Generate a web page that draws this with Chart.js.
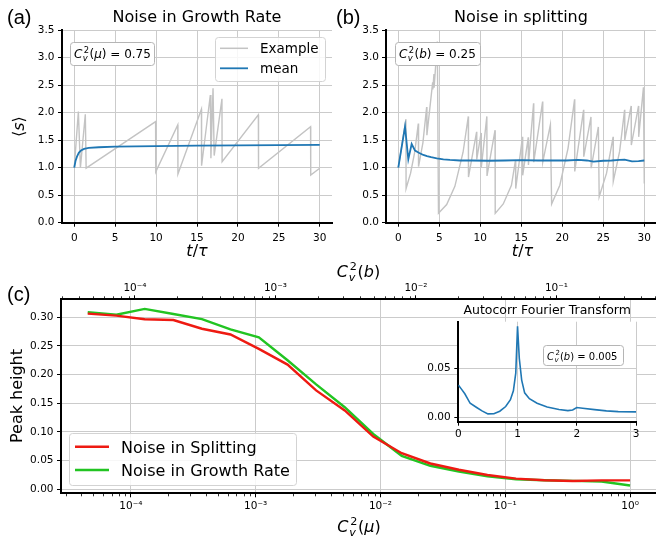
<!DOCTYPE html>
<html><head><meta charset="utf-8">
<script src="https://cdn.jsdelivr.net/npm/chart.js@4"></script>
<style>
html,body{margin:0;padding:0;background:#fff;}
#wrap{position:relative;width:656px;height:539px;overflow:hidden;background:#fff;}
canvas{position:absolute;}
</style></head><body>
<div id="wrap">
<canvas id="ca" width="340" height="270" style="left:0px;top:0px;width:340px;height:270px"></canvas>
<canvas id="cb" width="326" height="270" style="left:330px;top:0px;width:326px;height:270px"></canvas>
<canvas id="cc" width="656" height="284" style="left:0px;top:255px;width:656px;height:284px"></canvas>
<canvas id="ci" width="256" height="150" style="left:400px;top:295px;width:256px;height:150px"></canvas>
</div>
<script>
// ---------------- DATA ----------------
// (a) Noise in growth rate
const exampleT_a = [0, 0.5, 0.75, 1.35, 1.45, 9.94, 9.96, 12.65, 12.67, 15.54, 15.56, 16.63, 16.7, 16.96, 17.1, 18.05, 18.07, 22.5, 22.52, 28.88, 28.9, 30];
const exampleS_a = [1.0, 2.02, 1.0, 1.97, 0.99, 1.835, 0.925, 1.775, 0.885, 2.06, 1.035, 2.32, 1.17, 2.44, 1.22, 2.25, 1.11, 1.96, 0.99, 1.745, 0.865, 0.99];
const meanT_a = [0, 0.15, 0.33, 0.55, 0.82, 1.2, 1.77, 3, 5, 10, 15, 20, 25, 30];
const meanS_a = [1.0, 1.12, 1.2, 1.27, 1.31, 1.34, 1.36, 1.37, 1.38, 1.39, 1.40, 1.405, 1.41, 1.415];
// (b) Noise in splitting
const exampleT_b = [0, 0.93, 0.95, 1.5, 2.0, 2.44, 2.47, 3.0, 3.46, 3.49, 4.19, 4.21, 4.35, 4.37, 4.76, 4.9, 5.9, 6.9, 7.9, 8.54, 8.56, 9.55, 9.57, 10.1, 10.12, 10.8, 10.82, 11.8, 11.82, 12.8, 13.8, 14.3, 14.32, 15.15, 15.17, 15.85, 15.87, 16.5, 16.52, 17.6, 17.62, 18.55, 18.7, 19.7, 20.7, 21.5, 21.52, 22.6, 22.62, 23.5, 23.52, 24.4, 24.5, 25.4, 26.2, 26.22, 27.0, 27.6, 27.62, 28.4, 28.42, 29.3, 29.32, 29.9, 30];
const exampleS_b = [1.0, 1.88, 0.62, 0.9, 1.28, 1.80, 1.02, 1.45, 2.10, 1.59, 2.55, 2.42, 2.70, 2.45, 3.29, 0.17, 0.33, 0.66, 1.28, 1.93, 0.83, 1.65, 1.15, 1.63, 1.0, 1.93, 0.85, 1.68, 0.17, 0.34, 0.68, 1.14, 0.62, 1.56, 0.86, 1.55, 1.05, 2.17, 1.1, 2.2, 1.1, 1.78, 0.34, 0.68, 1.35, 2.24, 0.93, 2.05, 1.2, 1.92, 0.99, 1.74, 0.47, 0.9, 1.56, 0.75, 1.3, 2.05, 1.5, 2.12, 1.41, 2.12, 1.56, 2.46, 0.71];
const meanT_b = [0, 0.82, 1.22, 1.63, 2.04, 2.5, 3.05, 3.5, 4.0, 4.7, 5.5, 6.3, 7.5, 9, 11, 13, 15, 17, 19, 20.5, 21.95, 23, 23.8, 25, 26, 27, 27.6, 28.5, 29.3, 30];
const meanS_b = [1.0, 1.745, 1.15, 1.43, 1.31, 1.27, 1.23, 1.21, 1.19, 1.17, 1.15, 1.14, 1.13, 1.13, 1.125, 1.13, 1.135, 1.13, 1.13, 1.13, 1.14, 1.13, 1.11, 1.125, 1.13, 1.14, 1.145, 1.115, 1.12, 1.13];
const tTicks = [0, 5, 10, 15, 20, 25, 30];
const sTicks = [0, 0.5, 1, 1.5, 2, 2.5, 3, 3.5];
// (c) Peak height vs noise
const cv2mu = [4.51e-5, 7.64e-5, 1.29e-4, 2.19e-4, 3.71e-4, 6.28e-4, 1.06e-3, 1.80e-3, 3.05e-3, 5.17e-3, 8.75e-3, 1.48e-2, 2.51e-2, 4.25e-2, 7.20e-2, 0.122, 0.206, 0.349, 0.591, 1.0];
const peakSplitting = [0.3064, 0.303, 0.2965, 0.2953, 0.280, 0.270, 0.245, 0.2175, 0.1725, 0.1375, 0.092, 0.063, 0.045, 0.034, 0.025, 0.0186, 0.0158, 0.0145, 0.0155, 0.0155];
const peakGrowth = [0.3088, 0.3045, 0.3146, 0.3058, 0.2968, 0.279, 0.265, 0.225, 0.183, 0.1432, 0.0965, 0.0584, 0.041, 0.031, 0.0228, 0.0175, 0.0158, 0.0146, 0.0135, 0.0065];
const peakTicks = [0, 0.05, 0.10, 0.15, 0.20, 0.25, 0.30];
const decadesMu = [1e-4, 1e-3, 1e-2, 1e-1, 1];
const decadesB = [1e-4, 1e-3, 1e-2, 1e-1];
// inset: autocorrelation Fourier transform
const freq = [0, 0.05, 0.11, 0.2, 0.31, 0.4, 0.5, 0.6, 0.7, 0.8, 0.88, 0.93, 0.97, 1.0, 1.03, 1.07, 1.12, 1.2, 1.33, 1.5, 1.7, 1.85, 1.93, 2.0, 2.1, 2.3, 2.5, 2.7, 3.0];
const ampl = [0.033, 0.029, 0.024, 0.0143, 0.010, 0.0065, 0.0035, 0.0036, 0.0062, 0.011, 0.018, 0.027, 0.045, 0.093, 0.060, 0.038, 0.025, 0.019, 0.0143, 0.0105, 0.0080, 0.0068, 0.0075, 0.0100, 0.0092, 0.0078, 0.0066, 0.0058, 0.0055];
const freqTicks = [0, 1, 2, 3];
const amplTicks = [0, 0.05];

// ---------------- HELPERS ----------------
Chart.defaults.font.family = '"DejaVu Sans"';
Chart.defaults.color = '#000';
const GRID = '#cbcbcb';
const pts = (xs, ys) => xs.map((x, i) => ({x: x, y: ys[i]}));
const SUP = {'-':'\u207B','0':'\u2070','1':'\u00B9','2':'\u00B2','3':'\u00B3','4':'\u2074','5':'\u2075','6':'\u2076','7':'\u2077','8':'\u2078','9':'\u2079'};
const logLabel = v => '10' + String(Math.round(Math.log10(v))).split('').map(c => SUP[c]).join('');
function fontStr(size, italic){ return (italic ? 'italic ' : '') + size + 'px "DejaVu Sans"'; }
function segW(ctx, s){
  if (s.stack){ ctx.font = fontStr(s.size, false); const a = ctx.measureText(s.sup).width; ctx.font = fontStr(s.size, true); const b = ctx.measureText(s.sub).width; return Math.max(a, b) + s.size*0.15; }
  ctx.font = fontStr(s.size, s.italic); return ctx.measureText(s.t).width + (s.pad || 0);
}
function drawRich(ctx, x, y, segs, align, angle){
  ctx.save(); ctx.translate(x, y); if (angle) ctx.rotate(angle);
  const total = segs.reduce((a, s) => a + segW(ctx, s), 0);
  let cx = align === 'center' ? -total/2 : (align === 'right' ? -total : 0);
  ctx.textBaseline = 'alphabetic'; ctx.textAlign = 'left'; ctx.fillStyle = '#000';
  for (const s of segs){
    const w = segW(ctx, s);
    if (s.stack){
      ctx.font = fontStr(s.size, false); ctx.fillText(s.sup, cx + 1, -s.up);
      ctx.font = fontStr(s.size, true); ctx.fillText(s.sub, cx, s.down);
    } else { ctx.font = fontStr(s.size, s.italic); ctx.fillText(s.t, cx, 0); }
    cx += w;
  }
  ctx.restore(); return total;
}
function cvSegs(size, arg, tail){
  const s = [{t:'C', size:size, italic:true, pad:size*0.04},
    {stack:true, sup:'2', sub:'v', size:size*0.7, up:size*0.42, down:size*0.24},
    {t:'(', size:size}, {t:arg, size:size, italic:true}, {t:')', size:size}];
  if (tail) s.push({t:tail, size:size});
  return s;
}
function roundBox(ctx, x, y, w, h, r, fill, stroke){
  ctx.save(); ctx.beginPath();
  ctx.moveTo(x + r, y); ctx.lineTo(x + w - r, y); ctx.quadraticCurveTo(x + w, y, x + w, y + r);
  ctx.lineTo(x + w, y + h - r); ctx.quadraticCurveTo(x + w, y + h, x + w - r, y + h);
  ctx.lineTo(x + r, y + h); ctx.quadraticCurveTo(x, y + h, x, y + h - r);
  ctx.lineTo(x, y + r); ctx.quadraticCurveTo(x, y, x + r, y); ctx.closePath();
  ctx.fillStyle = fill; ctx.fill(); ctx.strokeStyle = stroke; ctx.lineWidth = 1; ctx.stroke(); ctx.restore();
}
function legendLine(ctx, x1, x2, y, color, lw){
  ctx.save(); ctx.strokeStyle = color; ctx.lineWidth = lw; ctx.beginPath(); ctx.moveTo(x1, y); ctx.lineTo(x2, y); ctx.stroke(); ctx.restore();
}
function txt(ctx, s, x, y, font, align){
  ctx.save(); ctx.font = font; ctx.fillStyle = '#000'; ctx.textAlign = align || 'left'; ctx.textBaseline = 'alphabetic'; ctx.fillText(s, x, y); ctx.restore();
}
const tickFont = {size: 10.5};
function linAxis(min, max, ticks, fmt, pad, fit, isY){
  return {type:'linear', min:min, max:max,
    afterBuildTicks: s => { s.ticks = ticks.map(v => ({value: v})); },
    ticks:{font:tickFont, color:'#000', padding:pad, maxRotation:0, autoSkip:false, callback: fmt},
    grid:{color:GRID, lineWidth:1, tickColor:'#000', tickLength:4, tickWidth:1},
    border:{color:'#000', width:2},
    afterFit: s => { if (isY) s.width = fit; else s.height = fit; }};
}

// ---------------- PANEL (a) ----------------
const plugA = {id:'plugA', afterDraw(chart){
  const ctx = chart.ctx;
  txt(ctx, '(a)', 7, 24, '20px "Liberation Sans"');
  drawRich(ctx, 24, 126.7, [{t:'\u27E8', size:16}, {t:'s', size:16, italic:true}, {t:'\u27E9', size:16}], 'center', -Math.PI/2);
  drawRich(ctx, 197, 256, [{t:'t', size:16, italic:true}, {t:'/', size:16}, {t:'\u03C4', size:16, italic:true}], 'center');
  roundBox(ctx, 70.5, 42.5, 84, 23, 3, '#ffffff', '#b5b5b5');
  drawRich(ctx, 74, 58, cvSegs(12, '\u03BC', ' = 0.75'), 'left');
  roundBox(ctx, 215.5, 37.5, 110, 44, 3, 'rgba(255,255,255,0.85)', '#d3d3d3');
  const ds = chart.data.datasets;
  legendLine(ctx, 220, 248, 48.3, ds[0].borderColor, 1.5);
  txt(ctx, ds[0].label, 260, 53.3, '13.5px "DejaVu Sans"');
  legendLine(ctx, 220, 248, 68.3, ds[1].borderColor, 1.8);
  txt(ctx, ds[1].label, 260, 73.3, '13.5px "DejaVu Sans"');
}};
new Chart(document.getElementById('ca'), {
  type:'line',
  data:{datasets:[
    {label:'Example', data:pts(exampleT_a, exampleS_a), borderColor:'#c3c3c3', borderWidth:1.4, pointRadius:0, tension:0, order:2},
    {label:'mean', data:pts(meanT_a, meanS_a), borderColor:'#1f77b4', borderWidth:1.8, pointRadius:0, tension:0, order:1}
  ]},
  options:{responsive:false, animation:false, devicePixelRatio:1,
    layout:{padding:{left:0, right:8, top:0, bottom:0}, autoPadding:false},
    plugins:{legend:{display:false}, tooltip:{enabled:false},
      title:{display:true, text:'Noise in Growth Rate', fullSize:false, color:'#000', font:{size:16, weight:'normal'}, padding:{top:8.1, bottom:2.7}}},
    scales:{
      x: linAxis(-1.5, 31.5, tTicks, v => String(v), 5, 270 - 222.7, false),
      y: linAxis(0, 3.5, sTicks, v => v.toFixed(1), 3.5, 62, true)
    }},
  plugins:[plugA]
});

// ---------------- PANEL (b) ----------------
const plugB = {id:'plugB', afterDraw(chart){
  const ctx = chart.ctx;
  txt(ctx, '(b)', 6, 24, '20px "Liberation Sans"');
  drawRich(ctx, 192.5, 256, [{t:'t', size:16, italic:true}, {t:'/', size:16}, {t:'\u03C4', size:16, italic:true}], 'center');
  roundBox(ctx, 65.5, 42.5, 85, 23, 3, '#ffffff', '#b5b5b5');
  drawRich(ctx, 69, 58, cvSegs(12, 'b', ' = 0.25'), 'left');
}};
new Chart(document.getElementById('cb'), {
  type:'line',
  data:{datasets:[
    {label:'Example', data:pts(exampleT_b, exampleS_b), borderColor:'#c3c3c3', borderWidth:1.4, pointRadius:0, tension:0, order:2},
    {label:'mean', data:pts(meanT_b, meanS_b), borderColor:'#1f77b4', borderWidth:1.8, pointRadius:0, tension:0, order:1}
  ]},
  options:{responsive:false, animation:false, devicePixelRatio:1,
    layout:{padding:{left:0, right:0, top:0, bottom:0}, autoPadding:false},
    plugins:{legend:{display:false}, tooltip:{enabled:false},
      title:{display:true, text:'Noise in splitting', fullSize:false, color:'#000', font:{size:16, weight:'normal'}, padding:{top:8.1, bottom:2.7}}},
    scales:{
      x: linAxis(-1.5, 31.43, tTicks, v => String(v), 5, 270 - 222.7, false),
      y: linAxis(0, 3.5, sTicks, v => v.toFixed(1), 3, 56, true)
    }},
  plugins:[plugB]
});

// ---------------- PANEL (c) ----------------
function logAxis(pos, min, max, decades, fit, grid, pad){
  return {type:'logarithmic', position:pos, min:min, max:max,
    afterBuildTicks: s => { s.ticks = decades.map(v => ({value: v, major: true})); },
    ticks:{font:tickFont, color:'#000', padding:pad, maxRotation:0, autoSkip:false, callback: v => logLabel(v)},
    grid:{color:GRID, lineWidth:1, drawOnChartArea:grid, tickColor:'#000', tickLength:4, tickWidth:1},
    border:{color:'#000', width:2},
    afterFit: s => { s.height = fit; }};
}
const plugC = {id:'plugC', afterDraw(chart){
  const ctx = chart.ctx, ca = chart.chartArea;
  // minor ticks
  ctx.save(); ctx.strokeStyle = '#000'; ctx.lineWidth = 0.8;
  for (const [id, y0, dir] of [['x', ca.bottom, 1], ['x2', ca.top, -1]]){
    const sc = chart.scales[id];
    for (let d = -6; d <= 0; d++) for (let k = 2; k <= 9; k++){
      const v = k * Math.pow(10, d);
      if (v < sc.min || v > sc.max) continue;
      const px = Math.round(sc.getPixelForValue(v)) + 0.5;
      ctx.beginPath(); ctx.moveTo(px, y0); ctx.lineTo(px, y0 + dir*3); ctx.stroke();
    }
  }
  ctx.restore();
  txt(ctx, '(c)', 7, 46, '20px "Liberation Sans"');
  drawRich(ctx, 359, 276.7, cvSegs(16, '\u03BC'), 'center');
  drawRich(ctx, 358.5, 21.7, cvSegs(16, 'b'), 'center');
  drawRich(ctx, 21.5, 141, [{t:'Peak height', size:16}], 'center', -Math.PI/2);
  roundBox(ctx, 69.5, 178.5, 227, 52, 3, 'rgba(255,255,255,0.85)', '#d3d3d3');
  const ds = chart.data.datasets;
  legendLine(ctx, 75, 109, 191.7, ds[0].borderColor, 2.5);
  txt(ctx, ds[0].label, 121, 198, '16px "DejaVu Sans"');
  legendLine(ctx, 75, 109, 215, ds[1].borderColor, 2.5);
  txt(ctx, ds[1].label, 121, 221.3, '16px "DejaVu Sans"');
}};
new Chart(document.getElementById('cc'), {
  type:'line',
  data:{datasets:[
    {label:'Noise in Splitting', data:pts(cv2mu, peakSplitting), borderColor:'#ee1a12', borderWidth:2.4, pointRadius:0, tension:0, order:1, xAxisID:'x', yAxisID:'y'},
    {label:'Noise in Growth Rate', data:pts(cv2mu, peakGrowth), borderColor:'#22c422', borderWidth:2.4, pointRadius:0, tension:0, order:2, xAxisID:'x', yAxisID:'y'}
  ]},
  options:{responsive:false, animation:false, devicePixelRatio:1,
    layout:{padding:{left:0, right:0, top:0, bottom:0}, autoPadding:false},
    plugins:{legend:{display:false}, tooltip:{enabled:false}, title:{display:false}},
    scales:{
      x: logAxis('bottom', 2.754e-5, 1.614, decadesMu, 284 - 238.3, true, 3),
      x2: logAxis('top', 2.974e-5, 0.5108, decadesB, 44.3, false, 1),
      y: linAxis(-0.007, 0.3314, peakTicks, v => v.toFixed(2), 3.5, 61, true)
    }},
  plugins:[plugC]
});

// ---------------- INSET ----------------
const plugI = {id:'plugI',
  beforeDraw(chart){ const ctx = chart.ctx, ca = chart.chartArea; ctx.save(); ctx.fillStyle = '#fff'; ctx.fillRect(ca.left, ca.top, ca.right - ca.left, ca.bottom - ca.top); ctx.restore(); },
  afterDraw(chart){
    const ctx = chart.ctx;
    roundBox(ctx, 143.5, 50.5, 80, 20, 3, '#ffffff', '#b5b5b5');
    drawRich(ctx, 147, 64.5, cvSegs(10, 'b', ' = 0.005'), 'left');
  }};
new Chart(document.getElementById('ci'), {
  type:'line',
  data:{datasets:[
    {label:'Autocorr FT', data:pts(freq, ampl), borderColor:'#1f77b4', borderWidth:1.6, pointRadius:0, tension:0}
  ]},
  options:{responsive:false, animation:false, devicePixelRatio:1,
    layout:{padding:{left:0, right:20, top:0, bottom:0}, autoPadding:false},
    plugins:{legend:{display:false}, tooltip:{enabled:false},
      title:{display:true, text:'Autocorr Fourier Transform', fullSize:false, color:'#000', font:{size:12.5, weight:'normal'}, padding:{top:8.5, bottom:3.2}}},
    scales:{
      x: linAxis(0, 3, freqTicks, v => String(v), 2, 150 - 126.7, false),
      y: linAxis(-0.0045, 0.0976, amplTicks, v => v.toFixed(2), 3.6, 58.3, true)
    }},
  plugins:[plugI]
});
</script>
</body></html>
